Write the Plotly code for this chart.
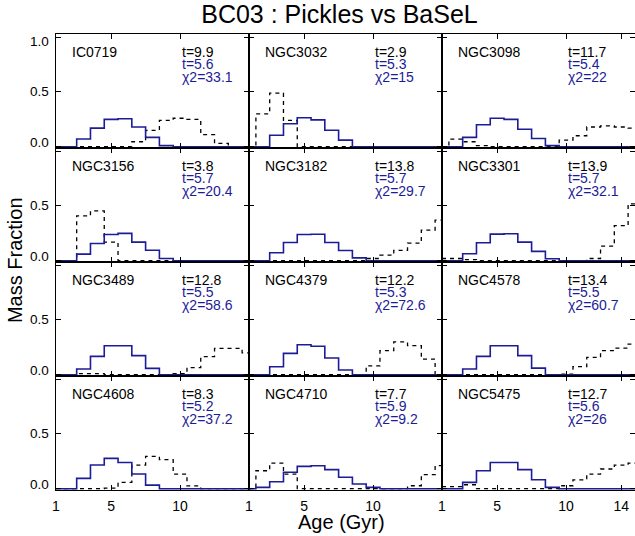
import plotly.graph_objects as go
from plotly.subplots import make_subplots

# ---------------- data ----------------
ages = list(range(1, 16))  # bin centres (Gyr)

galaxies = ["IC0719", "NGC3032", "NGC3098",
            "NGC3156", "NGC3182", "NGC3301",
            "NGC3489", "NGC4379", "NGC4578",
            "NGC4608", "NGC4710", "NGC5475"]

t_pickles = ["9.9", "2.9", "11.7", "3.8", "13.8", "13.9",
             "12.8", "12.2", "13.4", "8.3", "7.7", "12.7"]
t_basel = ["5.6", "5.3", "5.4", "5.7", "5.7", "5.7",
           "5.5", "5.3", "5.5", "5.2", "5.9", "5.6"]
chi2 = ["33.1", "15", "22", "20.4", "29.7", "32.1",
        "58.6", "72.6", "60.7", "37.2", "9.2", "26"]

# BaSeL mass fractions (blue solid), ages 1..15
basel_frac = [
    [0, 0, 0.07, 0.17, 0.25, 0.255, 0.18, 0.085, 0.01, 0, 0, 0, 0, 0, 0],
    [0, 0, 0.105, 0.21, 0.265, 0.245, 0.15, 0.06, 0, 0, 0, 0, 0, 0, 0],
    [0, 0, 0.085, 0.2, 0.26, 0.25, 0.16, 0.075, 0.01, 0, 0, 0, 0, 0, 0],
    [0, 0, 0.06, 0.157, 0.24, 0.25, 0.17, 0.095, 0.02, 0, 0, 0, 0, 0, 0],
    [0, 0, 0.072, 0.166, 0.24, 0.242, 0.166, 0.093, 0.026, 0, 0, 0, 0, 0, 0],
    [0, 0, 0.064, 0.164, 0.243, 0.246, 0.17, 0.085, 0.018, 0, 0, 0, 0, 0, 0],
    [0, 0, 0.052, 0.167, 0.265, 0.265, 0.174, 0.058, 0, 0, 0, 0, 0, 0, 0],
    [0, 0, 0.073, 0.195, 0.274, 0.26, 0.152, 0.043, 0, 0, 0, 0, 0, 0, 0],
    [0, 0, 0.052, 0.167, 0.265, 0.265, 0.174, 0.06, 0, 0, 0, 0, 0, 0, 0],
    [0, 0, 0.094, 0.216, 0.277, 0.24, 0.134, 0.033, 0, 0, 0, 0, 0, 0, 0],
    [0, 0.012, 0.064, 0.15, 0.204, 0.21, 0.174, 0.104, 0.043, 0.012, 0, 0, 0, 0, 0],
    [0, 0, 0.058, 0.164, 0.24, 0.24, 0.174, 0.082, 0.012, 0, 0, 0, 0, 0, 0],
]

# Pickles mass fractions (black dashed), ages 1..15
pickles_frac = [
    [0, 0, 0, 0, 0, 0, 0.045, 0.15, 0.24, 0.26, 0.25, 0.11, 0.03, 0, 0],
    [0, 0.30, 0.49, 0.24, 0, 0, 0, 0, 0, 0, 0, 0, 0, 0, 0],
    [0, 0.07, 0.045, 0.01, 0, 0, 0, 0, 0, 0.06, 0.1, 0.18, 0.19, 0.18, 0.17],
    [0, 0, 0.41, 0.455, 0.17, 0, 0, 0, 0, 0, 0, 0, 0, 0, 0],
    [0, 0, 0, 0, 0, 0, 0, 0, 0, 0.02, 0.05, 0.095, 0.16, 0.28, 0.37],
    [0.02, 0.02, 0.01, 0, 0, 0, 0, 0, 0, 0, 0, 0.02, 0.134, 0.32, 0.52],
    [0, 0, 0.01, 0.01, 0, 0, 0, 0, 0, 0.01, 0.065, 0.165, 0.24, 0.24, 0.2],
    [0, 0, 0, 0, 0, 0, 0, 0, 0, 0.08, 0.22, 0.3, 0.265, 0.143, 0],
    [0, 0, 0, 0, 0, 0, 0, 0, 0, 0.005, 0.073, 0.158, 0.22, 0.243, 0.28],
    [0, 0, 0, 0, 0.005, 0.058, 0.216, 0.295, 0.265, 0.134, 0.025, 0, 0, 0, 0],
    [0, 0.164, 0.234, 0.134, 0, 0, 0, 0, 0, 0, 0, 0, 0.027, 0.128, 0.21],
    [0.018, 0.018, 0.036, 0, 0, 0, 0, 0, 0, 0.027, 0.08, 0.134, 0.18, 0.216, 0.234],
]

x_tickvals = [1, 5, 10, 15]
x_ticktext = ["1", "5", "10", ""]
x_tickvals_last = [1, 5, 10, 14]
x_ticktext_last = ["1", "5", "10", "14"]
y_tickvals = [0, 0.5, 1.0]
y_ticktext = ["0.0", "0.5", "1.0"]
# vertical placement (fraction of panel height) of the y tick labels
y_label_pos = [0.05, 0.5, 0.93]

# ---------------- figure ----------------
BLUE = "#1c1c96"
FONT = "Liberation Sans, Arial, sans-serif"

fig = make_subplots(rows=4, cols=3, horizontal_spacing=0, vertical_spacing=0)

for i, name in enumerate(galaxies):
    r, c = i // 3 + 1, i % 3 + 1
    fig.add_trace(go.Scatter(x=ages, y=pickles_frac[i], mode="lines", line_shape="hvh",
                             line=dict(color="black", width=1.3, dash="4px,4px"),
                             showlegend=False, hoverinfo="skip"), row=r, col=c)
    fig.add_trace(go.Scatter(x=ages, y=basel_frac[i], mode="lines", line_shape="hvh",
                             line=dict(color=BLUE, width=1.6),
                             showlegend=False, hoverinfo="skip"), row=r, col=c)
    ax = "" if i == 0 else str(i + 1)
    fig.add_annotation(xref=f"x{ax} domain", yref=f"y{ax} domain", x=0.073, y=0.842,
                       text=name, showarrow=False, xanchor="left", yanchor="middle",
                       font=dict(size=14, color="black", family=FONT))
    fig.add_annotation(xref=f"x{ax} domain", yref=f"y{ax} domain", x=0.64, y=0.842,
                       text="t=" + t_pickles[i], showarrow=False, xanchor="left", yanchor="middle",
                       font=dict(size=14, color="black", family=FONT))
    fig.add_annotation(xref=f"x{ax} domain", yref=f"y{ax} domain", x=0.64, y=0.737,
                       text="t=" + t_basel[i], showarrow=False, xanchor="left", yanchor="middle",
                       font=dict(size=14, color=BLUE, family=FONT))
    fig.add_annotation(xref=f"x{ax} domain", yref=f"y{ax} domain", x=0.64, y=0.623,
                       text="χ2=" + chi2[i], showarrow=False, xanchor="left", yanchor="middle",
                       font=dict(size=14, color=BLUE, family=FONT))
    if c == 1:
        labels = list(zip(y_ticktext, y_label_pos))
        if r > 1:
            labels = labels[:2]  # reference shows "1.0" only in the top row
        for lab, pos in labels:
            fig.add_annotation(xref=f"x{ax} domain", yref=f"y{ax} domain", x=-0.028, y=pos,
                               text=lab, showarrow=False, xanchor="right", yanchor="middle",
                               font=dict(size=13.5, color="black", family=FONT))

    fig.update_xaxes(row=r, col=c, range=[1, 15], showline=True, linecolor="black", linewidth=1.2,
                     mirror="ticks", ticks="inside", ticklen=5, tickwidth=1, tickcolor="black",
                     showgrid=False, zeroline=False,
                     tickvals=x_tickvals_last if c == 3 else x_tickvals,
                     ticktext=x_ticktext_last if c == 3 else x_ticktext,
                     showticklabels=(r == 4), ticklabelstandoff=3,
                     tickfont=dict(size=14, color="black", family=FONT))
    fig.update_yaxes(row=r, col=c, range=[-0.012, 1.03], showline=True, linecolor="black", linewidth=1.2,
                     mirror="ticks", ticks="inside", ticklen=5, tickwidth=1, tickcolor="black",
                     showgrid=False, zeroline=False,
                     tickvals=y_tickvals, showticklabels=False)

fig.add_annotation(xref="paper", yref="paper", x=-0.071, y=0.504, text="Mass Fraction",
                   textangle=-90, showarrow=False, xanchor="center", yanchor="middle",
                   font=dict(size=20, color="black", family=FONT))
fig.add_annotation(xref="paper", yref="paper", x=(341 - 56) / 579, y=(490 - 522) / 456,
                   text="Age (Gyr)", showarrow=False, xanchor="center", yanchor="middle",
                   font=dict(size=20, color="black", family=FONT))

fig.update_layout(
    width=635, height=536,
    margin=dict(l=56, r=0, t=34, b=46),
    paper_bgcolor="white", plot_bgcolor="white",
    title=dict(text="BC03 : Pickles vs BaSeL", x=339.5 / 635, xref="container", xanchor="center",
               y=1 - 14 / 536, yref="container", yanchor="middle",
               font=dict(size=25, color="black", family=FONT)),
)

fig.write_html("out.html")
